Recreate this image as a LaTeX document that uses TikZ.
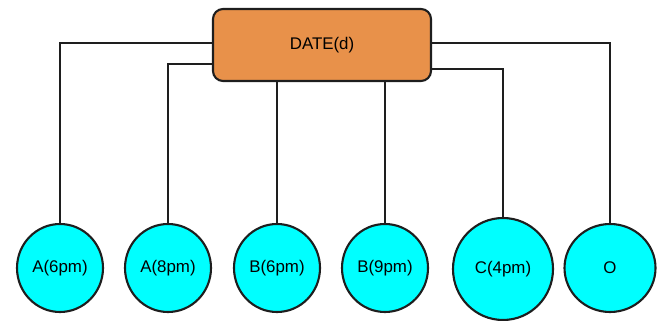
\documentclass[tikz,border=0pt]{standalone}
\usepackage{fontspec}
\setmainfont{Liberation Sans}
\usetikzlibrary{shapes.geometric}
\begin{document}
\begin{tikzpicture}[
	datebox/.style={draw=linegray,line width=1.5pt,fill=boxorange,rounded corners=0.25cm,minimum width=5.45cm,minimum height=1.8cm,font=\fontsize{12}{14}\selectfont},
	slot/.style={ellipse,draw=linegray,line width=1.5pt,fill=slotcyan,minimum width=2.15cm,minimum height=2.2cm,inner sep=0pt,font=\fontsize{12}{14}\selectfont},
	link/.style={draw=linegray,line width=1.6pt}]
\definecolor{boxorange}{RGB}{232,145,74}
\definecolor{slotcyan}{RGB}{0,255,255}
\definecolor{linegray}{RGB}{30,30,30}

	\useasboundingbox (0,0) rectangle (16.525,8);

	\node[datebox] (date) at (8.05,6.875){DATE(d)};

	\node[slot] (a6) at (1.5,1.3){A(6pm)};
	\node[slot] (a8) at (4.2,1.3){A(8pm)};
	\node[slot] (b6) at (6.925,1.3){B(6pm)};
	\node[slot] (b9) at (9.625,1.3){B(9pm)};
	\node[slot,minimum width=2.5cm,minimum height=2.55cm] (c4) at (12.575,1.275){C(4pm)};
	\node[slot,minimum width=2.275cm] (o) at (15.25,1.3){O};

	\draw[link] ([yshift=0.05cm]date.west) -| (a6);
	\draw[link] ([yshift=-0.475cm]date.west) -| (a8);
	\draw[link] (date.south -| b6) -- (b6);
	\draw[link] (date.south -| b9) -- (b9);
	\draw[link] ([yshift=-0.6cm]date.east) -| (c4);
	\draw[link] ([yshift=0.05cm]date.east) -| (o);

\end{tikzpicture}
\end{document}
